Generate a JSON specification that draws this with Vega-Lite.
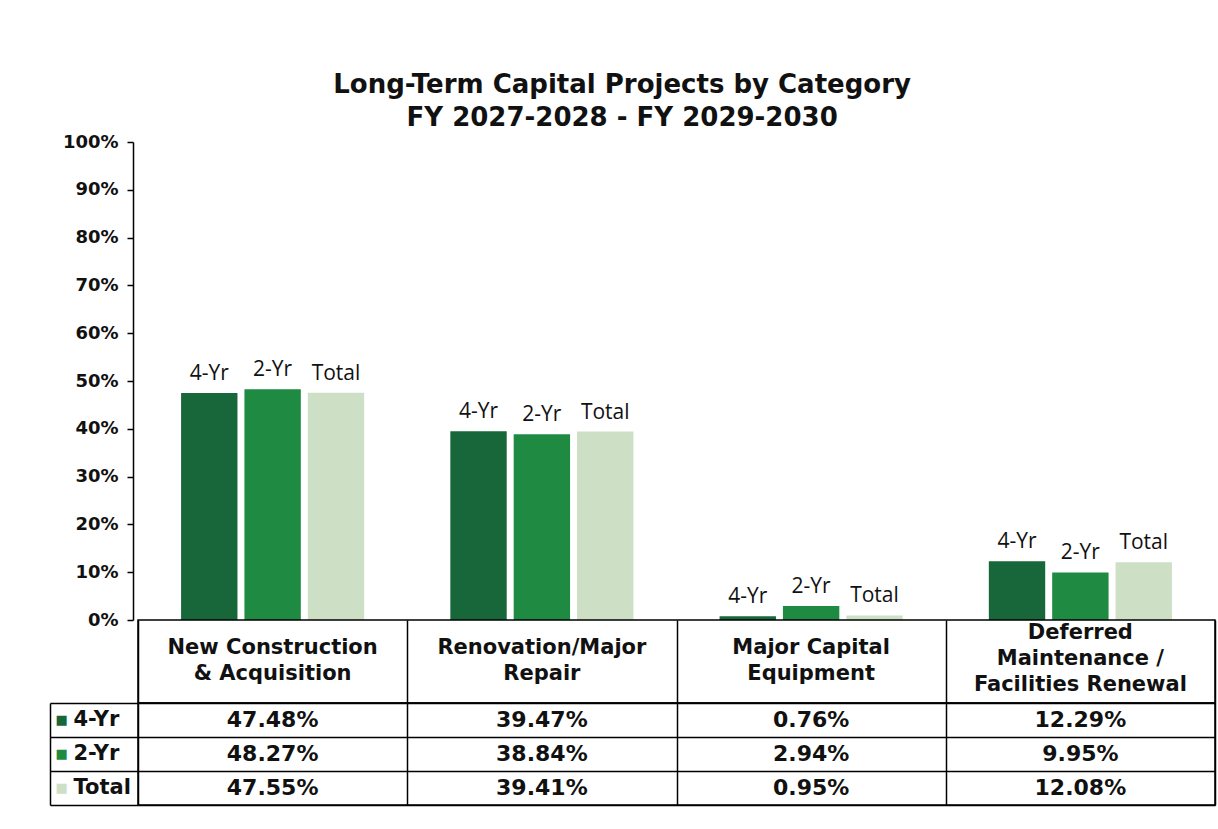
{
  "$schema": "https://vega.github.io/schema/vega-lite/v6.json",
  "background": "white",
  "padding": {"left": 48, "top": 72, "right": 3, "bottom": 20},
  "title": {
    "text": ["Long-Term Capital Projects by Category", "FY 2027-2028 - FY 2029-2030"],
    "font": "DejaVu Sans",
    "fontSize": 26,
    "fontWeight": "bold",
    "color": "#111111",
    "anchor": "middle",
    "lineHeight": 33,
    "offset": 2,
    "dx": -10
  },
  "config": {"view": {"stroke": null}, "font": "DejaVu Sans"},
  "bounds": "flush",
  "spacing": 0,
  "datasets": {
    "shares": [
      {"category": "New Construction & Acquisition", "series": "4-Yr", "value": 0.4748},
      {"category": "New Construction & Acquisition", "series": "2-Yr", "value": 0.4827},
      {"category": "New Construction & Acquisition", "series": "Total", "value": 0.4755},
      {"category": "Renovation/Major Repair", "series": "4-Yr", "value": 0.3947},
      {"category": "Renovation/Major Repair", "series": "2-Yr", "value": 0.3884},
      {"category": "Renovation/Major Repair", "series": "Total", "value": 0.3941},
      {"category": "Major Capital Equipment", "series": "4-Yr", "value": 0.0076},
      {"category": "Major Capital Equipment", "series": "2-Yr", "value": 0.0294},
      {"category": "Major Capital Equipment", "series": "Total", "value": 0.0095},
      {"category": "Deferred Maintenance / Facilities Renewal", "series": "4-Yr", "value": 0.1229},
      {"category": "Deferred Maintenance / Facilities Renewal", "series": "2-Yr", "value": 0.0995},
      {"category": "Deferred Maintenance / Facilities Renewal", "series": "Total", "value": 0.1208}
    ],
    "headers": [
      {"category": "New Construction & Acquisition", "header": "New Construction\n& Acquisition"},
      {"category": "Renovation/Major Repair", "header": "Renovation/Major\nRepair"},
      {"category": "Major Capital Equipment", "header": "Major Capital\nEquipment"},
      {"category": "Deferred Maintenance / Facilities Renewal", "header": "Deferred\nMaintenance /\nFacilities Renewal"}
    ]
  },
  "vconcat": [
    {
      "width": 1077,
      "height": 478,
      "data": {"name": "shares"},
      "encoding": {
        "x": {
          "field": "category", "type": "nominal",
          "sort": ["New Construction & Acquisition", "Renovation/Major Repair", "Major Capital Equipment", "Deferred Maintenance / Facilities Renewal"],
          "scale": {"paddingInner": 0, "paddingOuter": 0},
          "axis": null
        },
        "xOffset": {
          "field": "series", "type": "nominal",
          "sort": ["4-Yr", "2-Yr", "Total"],
          "scale": {"paddingInner": 0.11, "paddingOuter": 0.68}
        },
        "y": {
          "field": "value", "type": "quantitative",
          "scale": {"domain": [0, 1], "nice": false},
          "axis": {
            "values": [0, 0.1, 0.2, 0.3, 0.4, 0.5, 0.6, 0.7, 0.8, 0.9, 1],
            "format": ".0%",
            "grid": false,
            "offset": 5,
            "domainColor": "black",
            "domainWidth": 1.5,
            "tickColor": "black",
            "tickSize": 6,
            "tickWidth": 1.5,
            "labelFont": "DejaVu Sans",
            "labelFontWeight": "bold",
            "labelFontSize": 18,
            "labelColor": "#111111",
            "labelPadding": 9,
            "title": null
          }
        }
      },
      "layer": [
        {
          "mark": {"type": "bar"},
          "encoding": {
            "color": {
              "field": "series", "type": "nominal",
              "scale": {"domain": ["4-Yr", "2-Yr", "Total"], "range": ["#18673a", "#1f8a42", "#cde0c6"]},
              "legend": null
            }
          }
        },
        {
          "mark": {"type": "text", "baseline": "bottom", "dy": -9, "font": "Open Sans", "fontSize": 21, "fontWeight": 500, "color": "#111111"},
          "encoding": {"text": {"field": "series", "type": "nominal"}}
        }
      ]
    },
    {
      "width": 1077,
      "height": 83,
      "data": {"name": "headers"},
      "view": {"stroke": "black", "strokeWidth": 1.5},
      "encoding": {
        "x": {
          "field": "category", "type": "nominal",
          "sort": ["New Construction & Acquisition", "Renovation/Major Repair", "Major Capital Equipment", "Deferred Maintenance / Facilities Renewal"],
          "scale": {"paddingInner": 0, "paddingOuter": 0},
          "axis": {"labels": false, "ticks": false, "domain": false, "grid": true, "tickBand": "extent", "gridColor": "black", "gridOpacity": 1, "gridWidth": 1.5, "title": null}
        },
        "text": {"field": "header", "type": "nominal"}
      },
      "layer": [
        {
          "transform": [{"filter": "indexof(datum.header, '\\n') === lastindexof(datum.header, '\\n')"}],
          "mark": {"type": "text", "lineBreak": "\n", "font": "DejaVu Sans", "fontSize": 21, "fontWeight": "bold", "lineHeight": 26, "dy": -14, "color": "#111111"}
        },
        {
          "transform": [{"filter": "indexof(datum.header, '\\n') !== lastindexof(datum.header, '\\n')"}],
          "mark": {"type": "text", "lineBreak": "\n", "font": "DejaVu Sans", "fontSize": 21, "fontWeight": "bold", "lineHeight": 26, "dy": -29, "color": "#111111"}
        }
      ]
    },
    {
      "width": 1077,
      "height": 102,
      "data": {"name": "shares"},
      "view": {"stroke": "black", "strokeWidth": 1.5},
      "encoding": {
        "x": {
          "field": "category", "type": "nominal",
          "sort": ["New Construction & Acquisition", "Renovation/Major Repair", "Major Capital Equipment", "Deferred Maintenance / Facilities Renewal"],
          "scale": {"paddingInner": 0, "paddingOuter": 0},
          "axis": {"labels": false, "ticks": false, "domain": false, "grid": true, "tickBand": "extent", "gridColor": "black", "gridOpacity": 1, "gridWidth": 1.5, "title": null}
        }
      },
      "layer": [
        {
          "mark": {"type": "text", "font": "DejaVu Sans", "fontSize": 22, "fontWeight": "bold", "color": "#111111"},
          "encoding": {
            "y": {
              "field": "series", "type": "nominal", "sort": ["4-Yr", "2-Yr", "Total"],
              "scale": {"paddingInner": 0, "paddingOuter": 0},
              "axis": {"orient": "left", "offset": 88, "domain": true, "domainColor": "black", "domainWidth": 1.5, "ticks": true, "tickBand": "extent", "tickSize": -88, "tickColor": "black", "tickWidth": 1.5, "labels": false, "grid": true, "gridColor": "black", "gridOpacity": 1, "gridWidth": 1.5, "title": null}
            },
            "text": {"field": "value", "type": "quantitative", "format": ".2%"}
          }
        },
        {
          "mark": {"type": "text", "opacity": 0},
          "encoding": {
            "y": {
              "field": "series", "type": "nominal", "sort": ["4-Yr", "2-Yr", "Total"],
              "axis": {"orient": "left", "offset": 88, "domain": false, "ticks": false, "grid": false, "labelAlign": "left", "labelPadding": -23, "labelFont": "DejaVu Sans", "labelFontSize": 21, "labelFontWeight": "bold", "labelColor": "#111111", "title": null}
            },
            "text": {"field": "value", "type": "quantitative"}
          }
        },
        {
          "mark": {"type": "text", "opacity": 0},
          "encoding": {
            "y": {
              "field": "series", "type": "nominal", "sort": ["4-Yr", "2-Yr", "Total"],
              "axis": {
                "orient": "left", "offset": 88, "domain": false, "ticks": false, "grid": false,
                "labelExpr": "'■'", "labelAlign": "left", "labelPadding": -5, "labelFont": "DejaVu Sans", "labelFontSize": 13,
                "labelColor": {"condition": [{"test": "datum.value === '4-Yr'", "value": "#18673a"}, {"test": "datum.value === '2-Yr'", "value": "#1f8a42"}], "value": "#cde0c6"},
                "title": null
              }
            },
            "text": {"field": "value", "type": "quantitative"}
          }
        }
      ],
      "resolve": {"axis": {"y": "independent"}}
    }
  ]
}
